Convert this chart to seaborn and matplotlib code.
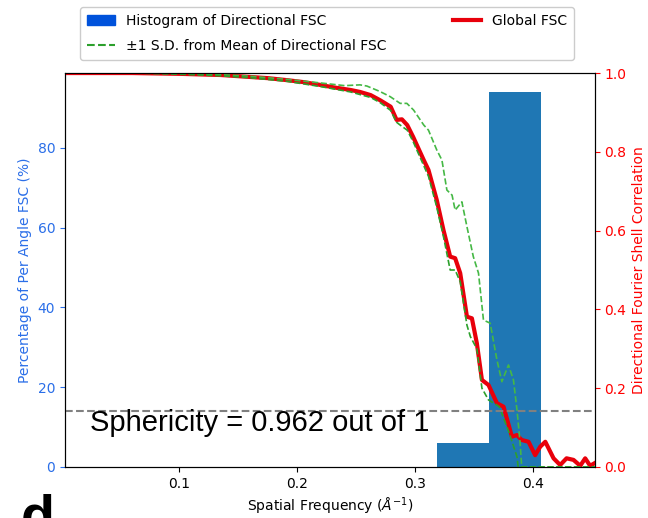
import numpy as np
import matplotlib
matplotlib.use('Agg')
import matplotlib.pyplot as plt
import matplotlib.patches as mpatches
import matplotlib.lines as mlines
import pandas as pd
import seaborn as sns

# histogram of directional resolution (percent of per-angle FSC)
hist_edges = [0.318, 0.3625, 0.4065]
hist_pct = [6.0, 94.0]

# global FSC
glob_freq = [0.003, 0.06, 0.10, 0.135, 0.16, 0.175, 0.191, 0.205, 0.219, 0.232, 0.245,
             0.253, 0.262, 0.270, 0.279, 0.284, 0.2885, 0.293, 0.298, 0.307, 0.311,
             0.318, 0.3237, 0.3294, 0.3336, 0.3379, 0.3436, 0.3478, 0.352, 0.3563,
             0.3619, 0.369, 0.3746, 0.3817, 0.386, 0.390, 0.3958, 0.4014, 0.4057,
             0.410, 0.417, 0.4226, 0.428, 0.4339, 0.4396, 0.4438, 0.448, 0.452]
glob_fsc = [1.0, 1.0, 0.998, 0.995, 0.99, 0.987, 0.982, 0.977, 0.97, 0.963, 0.957,
            0.952, 0.944, 0.931, 0.9145, 0.881, 0.8825, 0.868, 0.838, 0.779, 0.754,
            0.678, 0.6015, 0.534, 0.53, 0.492, 0.3815, 0.3774, 0.314, 0.221,
            0.208, 0.162, 0.153, 0.077, 0.081, 0.0685, 0.064, 0.030, 0.0515,
            0.064, 0.022, 0.005, 0.022, 0.018, 0.003, 0.022, 0.003, 0.01]

# mean + 1 SD of directional FSC
upper_freq = [0.003, 0.06, 0.10, 0.135, 0.16, 0.191, 0.219, 0.24, 0.253, 0.2588, 0.270,
              0.2786, 0.287, 0.2927, 0.2984, 0.307, 0.311, 0.318, 0.3224, 0.3266, 0.331,
              0.3336, 0.3393, 0.3436, 0.349, 0.3534, 0.3576, 0.3633, 0.369, 0.3732,
              0.3788, 0.383, 0.386, 0.3887, 0.390, 0.452]
upper_fsc = [1.0, 1.0, 0.999, 0.996, 0.992, 0.984, 0.975, 0.968, 0.97, 0.967, 0.953,
             0.94, 0.923, 0.923, 0.906, 0.868, 0.855, 0.805, 0.779, 0.703, 0.69,
             0.652, 0.673, 0.61, 0.534, 0.492, 0.373, 0.365, 0.272, 0.2165,
             0.259, 0.221, 0.145, 0.06, 0.0, 0.0]

# mean - 1 SD of directional FSC
lower_freq = [0.003, 0.06, 0.10, 0.135, 0.16, 0.191, 0.219, 0.245, 0.262, 0.270, 0.279,
              0.284, 0.287, 0.293, 0.298, 0.307, 0.311, 0.318, 0.3237, 0.3294, 0.3336,
              0.3379, 0.3436, 0.3465, 0.352, 0.3563, 0.3619, 0.3665, 0.371, 0.3795,
              0.386, 0.387, 0.452]
lower_fsc = [1.0, 1.0, 0.997, 0.993, 0.988, 0.979, 0.966, 0.952, 0.938, 0.925, 0.905,
             0.875, 0.868, 0.855, 0.826, 0.765, 0.738, 0.66, 0.585, 0.50, 0.50,
             0.47, 0.36, 0.331, 0.30, 0.20, 0.17, 0.162, 0.153, 0.0855,
             0.026, 0.0, 0.0]

sphericity = 0.962
threshold = 0.143

fig = plt.figure(figsize=(6.48, 5.18), dpi=100)
ax1 = fig.add_axes([0.1003, 0.0985, 0.8177, 0.7605])

centers = [(a + b) / 2 for a, b in zip(hist_edges[:-1], hist_edges[1:])]
sns.histplot(x=centers, weights=hist_pct, bins=hist_edges, ax=ax1,
             color='#1f77b4', alpha=1, edgecolor='none', linewidth=0)
ax1.set_ylim(0, max(hist_pct) * 1.05)
ax1.set_xlim(0.003, 0.452)
ax1.set_xticks([0.1, 0.2, 0.3, 0.4])
ax1.set_yticks([0, 20, 40, 60, 80])
ax1.tick_params(axis='y', colors='#2a6ee8', labelsize=10)
ax1.tick_params(axis='x', labelsize=10)
ax1.set_ylabel('Percentage of Per Angle FSC (%)', color='#2a6ee8', fontsize=10)
ax1.set_xlabel(r'Spatial Frequency ($\AA^{-1}$)', fontsize=10)

ax2 = ax1.twinx()
sns.lineplot(x=glob_freq, y=glob_fsc, ax=ax2, color='#e8000b', linewidth=3,
             sort=False, estimator=None)
sns.lineplot(x=upper_freq, y=upper_fsc, ax=ax2, color='#45b845', linewidth=1.2,
             linestyle='--', sort=False, estimator=None)
sns.lineplot(x=lower_freq, y=lower_fsc, ax=ax2, color='#2ca02c', linewidth=1.2,
             linestyle='--', sort=False, estimator=None)
ax2.axhline(threshold, color='gray', linestyle='--', linewidth=1.5)
ax2.set_ylim(0, 1.0)
ax2.set_xlim(0.003, 0.452)
ax2.tick_params(axis='y', colors='red', labelsize=10)
ax2.set_ylabel('Directional Fourier Shell Correlation', color='red', fontsize=10)

ax2.text(0.0245, 0.112, 'Sphericity = %.3f out of 1' % sphericity,
         fontsize=21, family='Liberation Sans', va='center', ha='left')

handles = [mpatches.Patch(color='#0052db', label='Histogram of Directional FSC'),
           mlines.Line2D([], [], color='#2ca02c', linestyle='--',
                         label=u'\u00b11 S.D. from Mean of Directional FSC'),
           mlines.Line2D([], [], color='#e8000b', linewidth=3, label='Global FSC')]
fig.legend(handles=handles, loc='upper center', bbox_to_anchor=(0.505, 1.0),
           ncol=2, fontsize=10, columnspacing=4.8, labelspacing=0.8,
           borderpad=0.5, framealpha=1)

fig.text(0.032, -0.03, 'd', fontsize=40, fontweight='bold', family='Liberation Sans',
         ha='left', va='baseline')

fig.savefig('out.png', dpi=100)
